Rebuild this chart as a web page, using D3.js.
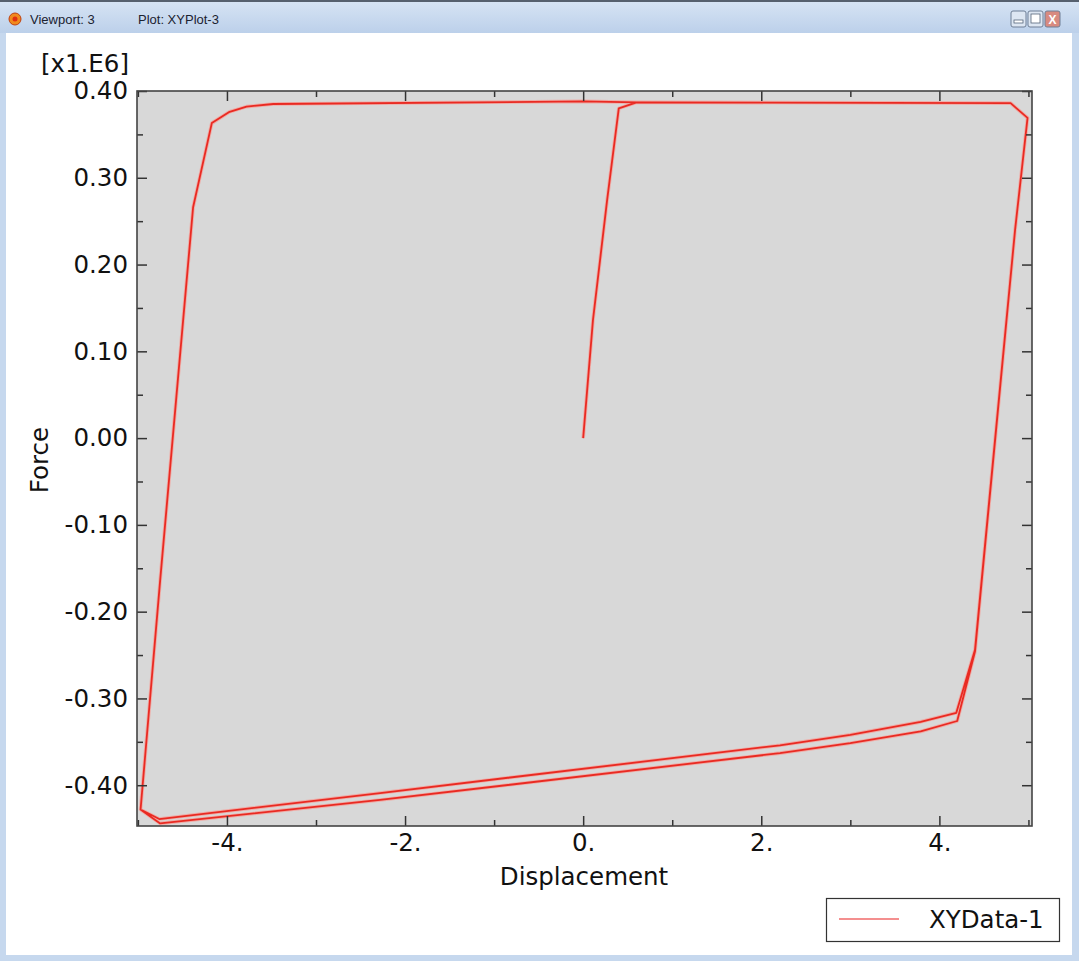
<!DOCTYPE html>
<html>
<head>
<meta charset="utf-8">
<script src="https://cdn.jsdelivr.net/npm/d3@7"></script>
<style>
  html, body { margin: 0; padding: 0; background: #fff; }
  svg { display: block; }
</style>
</head>
<body>
<script>
// ---- data (force in units of 1.E6) ----
const displacement = [0, 0.11, 0.27, 0.40, 0.60, 4.80, 4.99, 4.85, 4.40, 4.19, 3.79, 3.0, 2.21, -2.28, -4.76, -4.97,
  -4.75, -4.38, -4.17, -3.97, -3.78, -3.48, 0, 0.60, 4.80, 4.99, 4.85, 4.40, 4.20, 3.79, 3.0, 2.21, -2.28, -4.75, -4.97,
  -4.75, -4.38, -4.17, -3.97, -3.78, -3.48, 0];
const force = [0, 0.136, 0.275, 0.380, 0.387, 0.386, 0.369, 0.240, -0.244, -0.3165, -0.327, -0.342, -0.354, -0.409, -0.439, -0.428,
  -0.164, 0.266, 0.363, 0.376, 0.382, 0.385, 0.388, 0.387, 0.386, 0.369, 0.240, -0.246, -0.326, -0.338, -0.3516, -0.363, -0.417, -0.444, -0.428,
  -0.164, 0.266, 0.363, 0.376, 0.382, 0.385, 0.388];
const xTicks = [-4, -2, 0, 2, 4];
const xMinorTicks = [-5, -3, -1, 1, 3, 5];
const yTicks = [-0.40, -0.30, -0.20, -0.10, 0.00, 0.10, 0.20, 0.30, 0.40];
const yMinorTicks = [-0.35, -0.25, -0.15, -0.05, 0.05, 0.15, 0.25, 0.35];
const seriesName = "XYData-1";
const xLabel = "Displacement";
const yLabel = "Force";
const yScaleNote = "[x1.E6]";
const windowTitle1 = "Viewport: 3";
const windowTitle2 = "Plot: XYPlot-3";

const W = 1079, H = 961;
const FONT = "DejaVu Sans, Verdana, sans-serif";
const FS = 24.5;
const svg = d3.select("body").append("svg").attr("width", W).attr("height", H);

// ---- window chrome ----
const grad = svg.append("defs").append("linearGradient").attr("id", "tb")
  .attr("x1", 0).attr("y1", 0).attr("x2", 0).attr("y2", 1);
grad.append("stop").attr("offset", 0).attr("stop-color", "#d7e4f4");
grad.append("stop").attr("offset", 1).attr("stop-color", "#bcd0ea");
svg.append("rect").attr("x", 0).attr("y", 0).attr("width", W).attr("height", H).attr("fill", "#c6d8ee");
svg.append("rect").attr("x", 0).attr("y", 0).attr("width", W).attr("height", 33).attr("fill", "url(#tb)");
svg.append("rect").attr("x", 0).attr("y", 0).attr("width", W).attr("height", 2).attr("fill", "#56606e");
svg.append("rect").attr("x", 6).attr("y", 33).attr("width", W - 13).attr("height", 922).attr("fill", "#fff");

svg.append("circle").attr("cx", 15).attr("cy", 19).attr("r", 6).attr("fill", "#f08a1c").attr("stroke", "#c04010").attr("stroke-width", 1);
svg.append("circle").attr("cx", 15).attr("cy", 19).attr("r", 2.5).attr("fill", "#e03010");
svg.append("text").attr("x", 30).attr("y", 24).attr("font-family", "Liberation Sans, Arial, sans-serif")
  .attr("font-size", 13).attr("fill", "#1b2230").text(windowTitle1);
svg.append("text").attr("x", 138).attr("y", 24).attr("font-family", "Liberation Sans, Arial, sans-serif")
  .attr("font-size", 13).attr("fill", "#1b2230").text(windowTitle2);
[1011, 1028, 1045].forEach((bx, i) => {
  svg.append("rect").attr("x", bx).attr("y", 11).attr("width", 15).attr("height", 16).attr("rx", 2)
    .attr("fill", i === 2 ? "#d88a80" : "#dde6f2").attr("stroke", "#6f7f96");
});
svg.append("rect").attr("x", 1014).attr("y", 20).attr("width", 9).attr("height", 3).attr("fill", "#fff").attr("stroke", "#55657a").attr("stroke-width", 0.8);
svg.append("rect").attr("x", 1031).attr("y", 14).attr("width", 9).attr("height", 9).attr("fill", "#fff").attr("stroke", "#55657a").attr("stroke-width", 0.8);
svg.append("text").attr("x", 1052.5).attr("y", 24).attr("text-anchor", "middle").attr("font-family", "Liberation Sans, Arial, sans-serif")
  .attr("font-size", 12).attr("font-weight", "bold").attr("fill", "#fff").text("X");

// ---- scales ----
const x = d3.scaleLinear().domain([-5.01, 5.04]).range([137, 1032]);
const y = d3.scaleLinear().domain([-0.447, 0.40]).range([826, 91]);

// plot background
svg.append("rect").attr("x", x.range()[0]).attr("y", y.range()[1])
  .attr("width", x.range()[1] - x.range()[0]).attr("height", y.range()[0] - y.range()[1])
  .attr("fill", "#d8d8d8");

// ---- curve ----
const pts = displacement.map((d, i) => [d, force[i]]);
const line = d3.line().x(d => x(d[0])).y(d => y(d[1]));
const g = svg.append("g");
g.append("path").attr("d", line(pts)).attr("fill", "none").attr("stroke", "#f5a09a")
  .attr("stroke-width", 3.6).attr("stroke-linejoin", "round").attr("opacity", 0.8);
g.append("path").attr("d", line(pts)).attr("fill", "none").attr("stroke", "#e92a22")
  .attr("stroke-width", 1.8).attr("stroke-linejoin", "round");

// ---- axes ----
function styleAxis(sel) {
  sel.select(".domain").remove();
  sel.selectAll(".tick line").attr("stroke", "#333").attr("stroke-width", 1.5);
  sel.selectAll("text").attr("font-family", FONT).attr("font-size", FS).attr("fill", "#111");
}
const axB = svg.append("g").attr("transform", `translate(0,${y.range()[0]})`)
  .call(d3.axisBottom(x).tickValues(xTicks).tickSize(-10).tickPadding(8).tickFormat(d => d + "."));
styleAxis(axB);
const axBm = svg.append("g").attr("transform", `translate(0,${y.range()[0]})`)
  .call(d3.axisBottom(x).tickValues(xMinorTicks).tickSize(-6).tickFormat(""));
styleAxis(axBm);
const axT = svg.append("g").attr("transform", `translate(0,${y.range()[1]})`)
  .call(d3.axisTop(x).tickValues(xTicks).tickSize(-10).tickFormat(""));
styleAxis(axT);
const axTm = svg.append("g").attr("transform", `translate(0,${y.range()[1]})`)
  .call(d3.axisTop(x).tickValues(xMinorTicks).tickSize(-6).tickFormat(""));
styleAxis(axTm);
const axL = svg.append("g").attr("transform", `translate(${x.range()[0]},0)`)
  .call(d3.axisLeft(y).tickValues(yTicks).tickSize(-10).tickPadding(9).tickFormat(d => d.toFixed(2)));
styleAxis(axL);
const axLm = svg.append("g").attr("transform", `translate(${x.range()[0]},0)`)
  .call(d3.axisLeft(y).tickValues(yMinorTicks).tickSize(-6).tickFormat(""));
styleAxis(axLm);
const axR = svg.append("g").attr("transform", `translate(${x.range()[1]},0)`)
  .call(d3.axisRight(y).tickValues(yTicks).tickSize(-10).tickFormat(""));
styleAxis(axR);
const axRm = svg.append("g").attr("transform", `translate(${x.range()[1]},0)`)
  .call(d3.axisRight(y).tickValues(yMinorTicks).tickSize(-6).tickFormat(""));
styleAxis(axRm);

// frame
svg.append("rect").attr("x", x.range()[0]).attr("y", y.range()[1])
  .attr("width", x.range()[1] - x.range()[0]).attr("height", y.range()[0] - y.range()[1])
  .attr("fill", "none").attr("stroke", "#444").attr("stroke-width", 1.6);

// ---- labels ----
svg.append("text").attr("x", 129).attr("y", 72).attr("text-anchor", "end")
  .attr("font-family", FONT).attr("font-size", FS).attr("fill", "#111").text(yScaleNote);
svg.append("text").attr("transform", "translate(48,460) rotate(-90)").attr("text-anchor", "middle")
  .attr("font-family", FONT).attr("font-size", FS).attr("fill", "#111").text(yLabel);
svg.append("text").attr("x", 584).attr("y", 885).attr("text-anchor", "middle")
  .attr("font-family", FONT).attr("font-size", FS).attr("fill", "#111").text(xLabel);

// ---- legend ----
svg.append("rect").attr("x", 826.5).attr("y", 898.5).attr("width", 233).attr("height", 43)
  .attr("fill", "#fff").attr("stroke", "#333").attr("stroke-width", 1.2);
svg.append("line").attr("x1", 839).attr("x2", 899).attr("y1", 919).attr("y2", 919)
  .attr("stroke", "#f06a6a").attr("stroke-width", 1.6);
svg.append("text").attr("x", 929).attr("y", 928)
  .attr("font-family", FONT).attr("font-size", FS).attr("fill", "#111").text(seriesName);
</script>
</body>
</html>
